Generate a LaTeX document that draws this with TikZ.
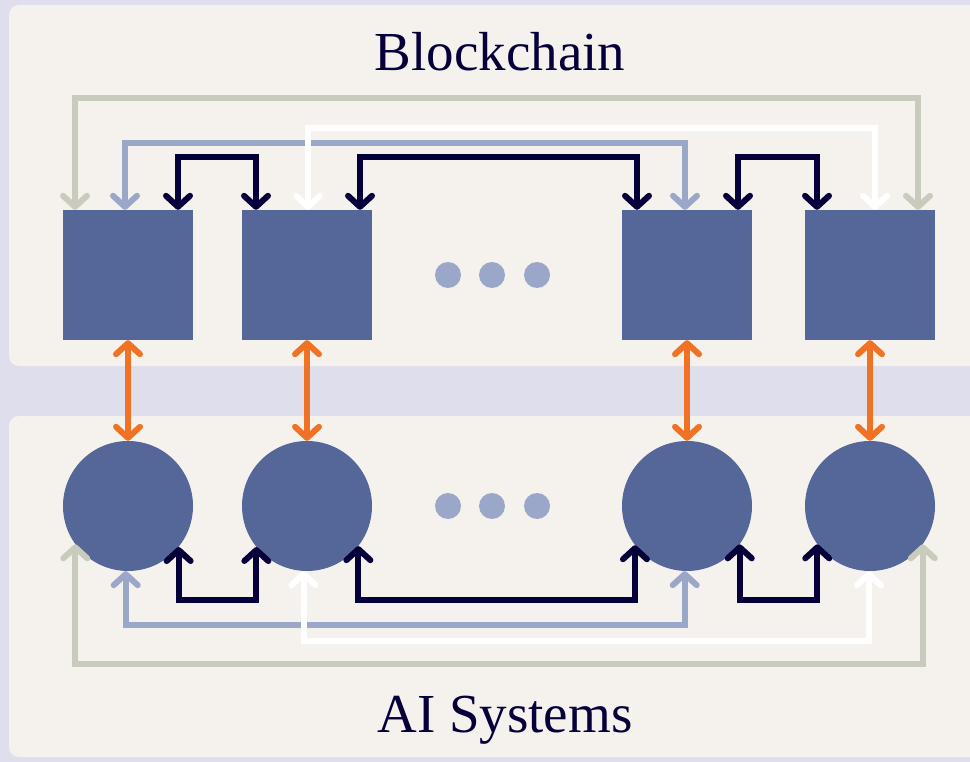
\documentclass[tikz,border=0pt]{standalone}
\usepackage{fontspec}
\setmainfont{Liberation Serif}
\usepackage{xcolor}
\usepackage{tikz}
\usetikzlibrary{arrows.meta}
\definecolor{haze}{HTML}{DFDEEC}
\definecolor{paper}{HTML}{F5F2EE}
\definecolor{slateblue}{HTML}{556698}
\definecolor{ink}{HTML}{05003A}
\definecolor{sage}{HTML}{C9CCBC}
\definecolor{mist}{HTML}{9BA7C8}
\definecolor{ember}{HTML}{F07325}

\begin{document}
\begin{tikzpicture}[x=1pt,y=-1pt,
    >={Straight Barb[length=11pt,width=24pt,line width=0pt 1,round]},
    panel/.style={fill=paper,rounded corners=10pt},
    blockbox/.style={fill=slateblue,minimum size=130pt,inner sep=0pt},
    agent/.style={circle,fill=slateblue,minimum size=130pt,inner sep=0pt},
    link/.style={line width=6pt,<->},
    heading/.style={text=ink,font=\fontsize{55}{64}\selectfont,anchor=base}]
  \useasboundingbox (0,0) rectangle (970,762);
  \clip (0,0) rectangle (970,762);
  \fill[haze] (0,0) rectangle (970,762);
  % the two layers
  \fill[panel] (9,5) rectangle (990,366);
  \fill[panel] (9,416) rectangle (990,757);
  \node[heading] (chain) at (500,71) {Blockchain};
  \node[heading] (ai) at (505,732) {AI Systems};
  % blocks on top, agents below
  \foreach \n/\x in {1/128,2/307,3/687,4/870}{
    \node[blockbox] (s\n) at (\x,275) {};
    \node[agent] (c\n) at (\x,506) {};
    \draw[link,ember] (s\n.south) -- (c\n.north);}
  \foreach \x in {448,492,537}{
    \fill[mist] (\x,275) circle (13);
    \fill[mist] (\x,506) circle (13);}
  % links between blocks
  \draw[link,sage] ([xshift=-53pt]s1.north) -- ++(0,-112) -| ([xshift=48pt]s4.north);
  \draw[link,mist] ([xshift=-3pt]s1.north) -- ++(0,-67) -| ([xshift=-2pt]s3.north);
  \draw[link,white] ([xshift=1pt]s2.north) -- ++(0,-82) -| ([xshift=5pt]s4.north);
  \draw[link,ink] ([xshift=50pt]s1.north) -- ++(0,-53) -| ([xshift=-51pt]s2.north);
  \draw[link,ink] ([xshift=53pt]s2.north) -- ++(0,-53) -| ([xshift=-50pt]s3.north);
  \draw[link,ink] ([xshift=51pt]s3.north) -- ++(0,-53) -| ([xshift=-53pt]s4.north);
  % links between agents
  \draw[link,sage] (c1.-144.6) -- (c1.-144.6 |- 0,664) -| (c4.-36.9);
  \draw[link,mist] (c1.-92.6) -- (c1.-92.6 |- 0,625) -| (c3.-92);
  \draw[link,white] (c2.-93.5) -- (c2.-93.5 |- 0,641) -| (c4.-91.8);
  \draw[link,ink] (c1.-39.7) -- (c1.-39.7 |- 0,600) -| (c2.-141.7);
  \draw[link,ink] (c2.-38.3) -- (c2.-38.3 |- 0,600) -| (c3.-143.1);
  \draw[link,ink] (c3.-36.9) -- (c3.-36.9 |- 0,600) -| (c4.-144.6);
\end{tikzpicture}
\end{document}
